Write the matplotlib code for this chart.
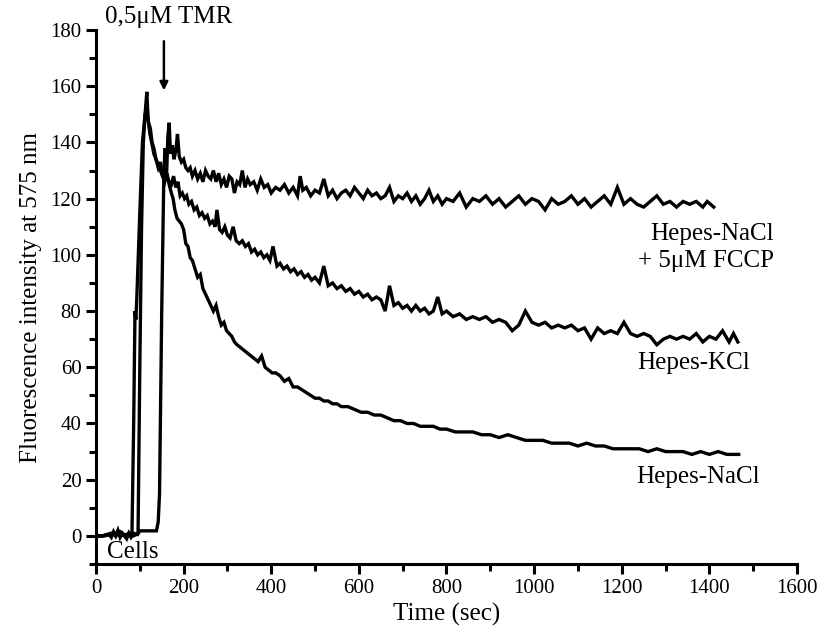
import matplotlib
matplotlib.use("Agg")
import matplotlib.pyplot as plt
from matplotlib.ticker import MultipleLocator

plt.rcParams['font.family'] = ['Liberation Serif', 'DejaVu Serif']

# ---- data ----
t_nacl = [0, 20, 30, 35, 40, 45, 50, 55, 60, 65, 70, 75, 80, 82, 86, 89, 91, 93, 100, 106,
          112, 116, 119, 123, 127, 132, 137, 142, 147, 152, 157, 162, 167, 172, 176, 180,
          185, 190, 195, 200, 205, 210, 215, 220, 226, 232, 238, 244, 250, 256, 262, 268,
          274, 280, 286, 292, 298, 304, 310, 316, 322, 330, 338, 346, 354, 362, 370, 378,
          386, 394, 402, 410, 420, 430, 440, 450, 460, 470, 480, 490, 500, 510, 520, 530,
          540, 550, 560, 575, 590, 605, 620, 635, 650, 665, 680, 695, 710, 725, 740, 755,
          770, 785, 800, 820, 840, 860, 880, 900, 920, 940, 960, 980, 1000, 1020, 1040,
          1060, 1080, 1100, 1120, 1140, 1160, 1180, 1200, 1220, 1240, 1260, 1280, 1300,
          1320, 1340, 1360, 1380, 1400, 1420, 1440, 1455, 1467]
v_nacl = [0, 0, 0.5, -0.5, 1.5, 0, 2, -0.5, 1, 0, -1, 1, -0.5, 0, 40, 80, 77, 84, 115, 140,
          150, 158, 148, 143, 140, 136, 134, 131, 133, 128, 126, 129, 125, 122, 120, 116,
          113, 112, 111, 109, 104, 103, 99, 98, 95, 92, 93, 88, 86, 84, 82, 80,
          82, 78, 75, 76, 73, 72, 71, 69, 68, 67, 66, 65, 64, 63, 62, 64, 60, 59, 58,
          58, 57, 55, 56, 53, 53, 52, 51, 50, 49, 49, 48, 48, 47, 47, 46, 46, 45, 44,
          44, 43, 43, 42, 41, 41, 40, 40, 39, 39, 39, 38, 38, 37, 37, 37, 36, 36, 35, 36,
          35, 34, 34, 34, 33, 33, 33, 32, 33, 32, 32, 31, 31, 31, 31, 30, 31, 30, 30, 30,
          29, 30, 29, 30, 29, 29, 29]

t_kcl = [0, 15, 25, 35, 45, 55, 65, 75, 85, 92, 96, 100, 104, 108, 112, 116, 120, 124,
         128, 132, 137, 142, 147, 152, 157, 162, 167, 172, 177, 182, 187, 192, 197, 202,
         207, 212, 218, 224, 230, 236, 242, 248, 254, 260, 266, 272, 276, 282, 288, 294,
         300, 306, 313, 320, 327, 334, 341, 348, 355, 362, 369, 376, 383, 390, 397, 404,
         413, 420, 428, 436, 444, 452, 460, 468, 476, 484, 492, 500, 510, 520, 530, 540,
         550, 560, 570, 580, 590, 600, 610, 620, 630, 640, 650, 660, 670, 680, 690, 700,
         710, 720, 730, 740, 750, 760, 770, 780, 790, 800, 815, 830, 845, 860, 875, 890,
         905, 920, 935, 950, 965, 980, 995, 1010, 1025, 1040, 1055, 1070, 1085, 1100,
         1115, 1130, 1145, 1160, 1175, 1190, 1205, 1220, 1235, 1250, 1265, 1280, 1295,
         1310, 1325, 1340, 1355, 1370, 1385, 1400, 1415, 1430, 1445, 1455, 1465]
v_kcl = [0, 0, 0.5, 1, 0, 1.5, 0, 1, 0, 0.5, 1, 60, 110, 140, 150, 152, 147, 145,
         140, 138, 134, 132, 130, 128, 127, 128, 126, 125, 128, 124, 126, 121, 122, 120,
         121, 118, 119, 116, 117, 114, 115, 113, 114, 111, 112, 110, 116, 109, 108, 110,
         107, 106, 110, 105, 104, 105, 103, 104, 101, 102, 100, 101, 99, 100, 98, 103,
         96, 97, 95, 96, 94, 95, 93, 94, 92, 93, 91, 92, 90, 96, 89, 90,
         88, 89, 87, 88, 86, 87, 85, 86, 84, 85, 84, 80, 89, 82, 83, 81,
         82, 80, 82, 80, 81, 79, 80, 85, 79, 80, 78, 79, 77, 78, 77, 78,
         76, 77, 76, 73, 75, 80, 76, 75, 76, 74, 75, 74, 75, 73,
         74, 70, 74, 72, 73, 72, 76, 72, 71, 72, 71, 68, 70,
         71, 70, 71, 70, 72, 69, 71, 70, 73, 69, 72, 69]

t_fccp = [0, 15, 25, 35, 45, 55, 65, 75, 85, 95, 100, 120, 138, 142, 145, 150, 155, 158,
          161, 164, 167, 170, 174, 178, 182, 186, 190, 195, 200, 205, 210, 215, 220, 226,
          232, 238, 244, 250, 256, 262, 268, 274, 280, 286, 292, 298, 304, 310, 316, 322,
          328, 334, 340, 346, 352, 360, 368, 376, 384, 392, 400, 410, 420, 430, 440, 450,
          460, 466, 472, 480, 490, 500, 510, 520, 530, 540, 550, 560, 570, 580, 590, 600,
          610, 620, 630, 640, 650, 660, 670, 680, 690, 700, 710, 720, 730, 740, 750, 760,
          770, 780, 790, 800, 815, 830, 845, 860, 875, 890, 905, 920, 935, 950, 965, 980,
          995, 1010, 1025, 1040, 1055, 1070, 1085, 1100, 1115, 1130, 1145, 1160, 1175,
          1190, 1205, 1220, 1235, 1250, 1265, 1280, 1295, 1310, 1325, 1340, 1355, 1370,
          1385, 1395, 1410]
v_fccp = [0, 0, 0.5, 0, 1, 0, 0.5, 0, 1, 0.5, 1.8, 1.8, 1.8, 5, 15, 80, 130, 138,
          128, 142, 147, 136, 139, 134, 137, 143, 135, 133, 134, 131, 130, 131, 128, 130,
          127, 129, 126, 130, 128, 127, 130, 126, 129, 125, 127, 124, 128, 127, 122, 126,
          125, 130, 124, 127, 125, 126, 123, 127, 124, 125, 122, 124, 123, 125, 122, 124,
          121, 128, 123, 124, 121, 123, 122, 127, 121, 123, 120, 122, 123, 121, 124, 122,
          120, 123, 121, 122, 120, 121, 124, 119, 121, 120, 122, 119, 121, 118, 120, 123,
          119, 121, 118, 120, 119, 122, 117, 120, 119, 121, 118, 120, 117, 119, 121, 118,
          120, 119, 116, 120, 118, 119, 121, 118, 120, 117, 119, 121, 118,
          124, 118, 120, 118, 117, 119, 121, 118, 119, 117, 119, 118, 119,
          117, 119, 117]

xticks = [0, 200, 400, 600, 800, 1000, 1200, 1400, 1600]
yticks = [0, 20, 40, 60, 80, 100, 120, 140, 160, 180]

fig = plt.figure(figsize=(8.29, 6.41), dpi=100)
ax = fig.add_axes([0.1158, 0.1201, 0.8456, 0.8331])

for t, v in [(t_nacl, v_nacl), (t_kcl, v_kcl), (t_fccp, v_fccp)]:
    ax.plot(t, v, color='black', lw=2.4, solid_joinstyle='miter')

ax.set_xlim(0, 1600)
ax.set_ylim(-10, 180)
ax.set_xticks(xticks)
ax.set_yticks(yticks)
ax.xaxis.set_minor_locator(MultipleLocator(100))
ax.yaxis.set_minor_locator(MultipleLocator(10))
for s in ['top', 'right']:
    ax.spines[s].set_visible(False)
for s in ['left', 'bottom']:
    ax.spines[s].set_linewidth(2.2)
ax.tick_params(which='major', direction='out', length=7, width=2.2, labelsize=15)
ax.tick_params(which='minor', direction='out', length=5, width=2.2)

ax.set_xlabel('Time (sec)', fontsize=18, labelpad=4)
ax.set_ylabel('Fluorescence intensity at 575 nm', fontsize=18, labelpad=6)

ax.text(20, 184.5, '0,5μM TMR', fontsize=18, ha='left', va='center', clip_on=False)
ax.annotate('', xy=(155, 158.5), xytext=(155, 176),
            arrowprops=dict(arrowstyle='-|>', color='black', lw=1.8,
                            mutation_scale=12, shrinkA=0, shrinkB=0),
            annotation_clip=False)
ax.text(85, -5.8, 'Cells', fontsize=18, ha='center', va='center')
ax.text(1547, 102.5, 'Hepes-NaCl\n+ 5μM FCCP', fontsize=18, ha='right', va='center',
        multialignment='right', linespacing=1.3)
ax.text(1363, 61.5, 'Hepes-KCl', fontsize=18, ha='center', va='center')
ax.text(1374, 21, 'Hepes-NaCl', fontsize=18, ha='center', va='center')

fig.savefig('out.png', dpi=100)
